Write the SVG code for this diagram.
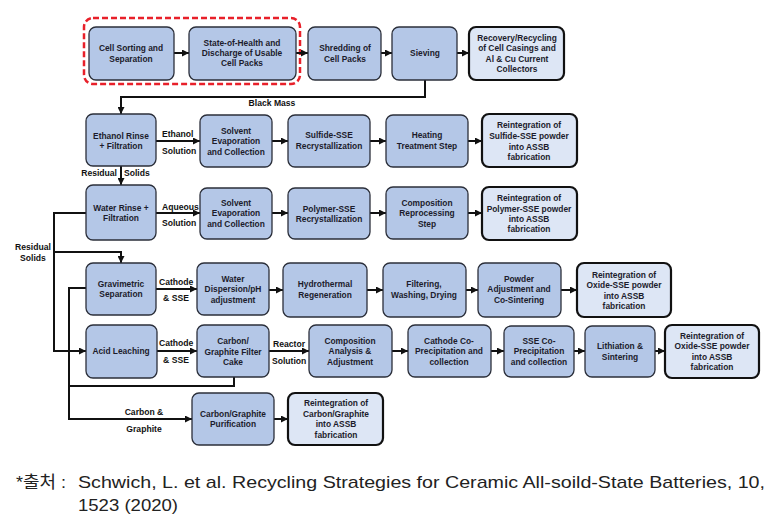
<svg xmlns="http://www.w3.org/2000/svg" width="781" height="520" viewBox="0 0 781 520">
<style>
.box{fill:#b4c7e7;stroke:#2b2f3a;stroke-width:1.3}
.fin{fill:#dde6f5;stroke:#111;stroke-width:2.2}
.t{font-family:"Liberation Sans",Arial,sans-serif;font-weight:bold;font-size:8.4px;text-anchor:middle;fill:#1c1c2c}
.l{font-family:"Liberation Sans",Arial,sans-serif;font-weight:bold;font-size:8.6px;fill:#111}
.c{stroke:#111;stroke-width:2;fill:none}
.foot{font-family:"Liberation Sans","Noto Sans CJK KR",sans-serif;font-size:17px;fill:#222}
</style>
<defs>
<marker id="ah" markerUnits="userSpaceOnUse" markerWidth="7" markerHeight="7" refX="7" refY="3.5" orient="auto">
<path d="M0,0 L7,3.5 L0,7 z" fill="#111"/>
</marker>
</defs>
<rect width="781" height="520" fill="#fff"/>

<rect x="84" y="18" width="216" height="66" rx="9" fill="none" stroke="#e8202a" stroke-width="2.5" stroke-dasharray="6 3"/>

<g id="connectors">
<line class="c" x1="174" y1="53" x2="189" y2="53" marker-end="url(#ah)"/>
<line class="c" x1="296" y1="53" x2="308" y2="53" marker-end="url(#ah)"/>
<line class="c" x1="381" y1="53" x2="392" y2="53" marker-end="url(#ah)"/>
<line class="c" x1="457" y1="53" x2="469" y2="53" marker-end="url(#ah)"/>
<polyline class="c" points="425,80 425,97 121,97 121,114" marker-end="url(#ah)"/>
<line class="c" x1="156" y1="141" x2="200" y2="141" marker-end="url(#ah)"/>
<line class="c" x1="272" y1="141" x2="288" y2="141" marker-end="url(#ah)"/>
<line class="c" x1="370" y1="141" x2="386" y2="141" marker-end="url(#ah)"/>
<line class="c" x1="468" y1="141" x2="482" y2="141" marker-end="url(#ah)"/>
<line class="c" x1="121" y1="166" x2="121" y2="185" marker-end="url(#ah)"/>
<line class="c" x1="156" y1="213" x2="200" y2="213" marker-end="url(#ah)"/>
<line class="c" x1="272" y1="213" x2="288" y2="213" marker-end="url(#ah)"/>
<line class="c" x1="370" y1="213" x2="386" y2="213" marker-end="url(#ah)"/>
<line class="c" x1="468" y1="213" x2="482" y2="213" marker-end="url(#ah)"/>
<polyline class="c" points="86,213 54,213 54,351 86,351" marker-end="url(#ah)"/>
<polyline class="c" points="54,252 121,252 121,263" marker-end="url(#ah)"/>
<line class="c" x1="156" y1="289" x2="197" y2="289" marker-end="url(#ah)"/>
<line class="c" x1="269" y1="290" x2="283" y2="290" marker-end="url(#ah)"/>
<line class="c" x1="367" y1="290" x2="383" y2="290" marker-end="url(#ah)"/>
<line class="c" x1="466" y1="290" x2="478" y2="290" marker-end="url(#ah)"/>
<line class="c" x1="561" y1="290" x2="577" y2="290" marker-end="url(#ah)"/>
<polyline class="c" points="86,288 69,288 69,419 192,419" marker-end="url(#ah)"/>
<polyline class="c" points="234,377 234,386 69,386"/>
<line class="c" x1="157" y1="351" x2="197" y2="351" marker-end="url(#ah)"/>
<line class="c" x1="269" y1="351" x2="309" y2="351" marker-end="url(#ah)"/>
<line class="c" x1="392" y1="351" x2="408" y2="351" marker-end="url(#ah)"/>
<line class="c" x1="491" y1="351" x2="504" y2="351" marker-end="url(#ah)"/>
<line class="c" x1="574" y1="351" x2="585" y2="351" marker-end="url(#ah)"/>
<line class="c" x1="655" y1="351" x2="665" y2="351" marker-end="url(#ah)"/>
<line class="c" x1="274" y1="419" x2="288" y2="419" marker-end="url(#ah)"/>
</g>

<g id="connector-labels">
<text class="l" x="272" y="106" text-anchor="middle">Black Mass</text>
<text class="l" x="162" y="137">Ethanol</text>
<text class="l" x="162" y="154">Solution</text>
<text class="l" x="117" y="176" text-anchor="end">Residual</text>
<text class="l" x="124" y="176">Solids</text>
<text class="l" x="162" y="210">Aqueous</text>
<text class="l" x="162" y="226">Solution</text>
<text class="l" x="33" y="250" text-anchor="middle">Residual</text>
<text class="l" x="33" y="261" text-anchor="middle">Solids</text>
<text class="l" x="159" y="285">Cathode</text>
<text class="l" x="176" y="301" text-anchor="middle">&amp; SSE</text>
<text class="l" x="159" y="346">Cathode</text>
<text class="l" x="176" y="363" text-anchor="middle">&amp; SSE</text>
<text class="l" x="273" y="347">Reactor</text>
<text class="l" x="272" y="364">Solution</text>
<text class="l" x="144" y="415" text-anchor="middle">Carbon &amp;</text>
<text class="l" x="144" y="432" text-anchor="middle">Graphite</text>
</g>

<g id="n-cell-sorting"><rect class="box" x="89" y="27" width="85" height="53" rx="7"/>
<text class="t" x="131" y="51">Cell Sorting and</text><text class="t" x="131" y="62">Separation</text></g>
<g id="n-soh"><rect class="box" x="189" y="27" width="107" height="53" rx="7"/>
<text class="t" x="242" y="46">State-of-Health and</text><text class="t" x="242" y="56">Discharge of Usable</text><text class="t" x="242" y="66">Cell Packs</text></g>
<g id="n-shredding"><rect class="box" x="308" y="27" width="73" height="53" rx="7"/>
<text class="t" x="345" y="51">Shredding of</text><text class="t" x="345" y="62">Cell Packs</text></g>
<g id="n-sieving"><rect class="box" x="392" y="27" width="65" height="53" rx="7"/>
<text class="t" x="425" y="56">Sieving</text></g>
<g id="n-recovery"><rect class="fin" x="469" y="27" width="95" height="53" rx="7"/>
<text class="t" x="517" y="41">Recovery/Recycling</text><text class="t" x="517" y="51">of Cell Casings and</text><text class="t" x="517" y="62">Al &amp; Cu Current</text><text class="t" x="517" y="72">Collectors</text></g>

<g id="n-ethanol"><rect class="box" x="86" y="114" width="70" height="52" rx="7"/>
<text class="t" x="121" y="139">Ethanol Rinse</text><text class="t" x="121" y="149">+ Filtration</text></g>
<g id="n-solvent1"><rect class="box" x="200" y="115" width="72" height="52" rx="7"/>
<text class="t" x="236" y="134">Solvent</text><text class="t" x="236" y="144">Evaporation</text><text class="t" x="236" y="155">and Collection</text></g>
<g id="n-sulfide"><rect class="box" x="288" y="115" width="82" height="52" rx="7"/>
<text class="t" x="329" y="138">Sulfide-SSE</text><text class="t" x="329" y="149">Recrystallization</text></g>
<g id="n-heating"><rect class="box" x="386" y="115" width="82" height="52" rx="7"/>
<text class="t" x="427" y="138">Heating</text><text class="t" x="427" y="149">Treatment Step</text></g>
<g id="n-reint-sulfide"><rect class="fin" x="482" y="114" width="95" height="53" rx="7"/>
<text class="t" x="529" y="128">Reintegration of</text><text class="t" x="529" y="139">Sulfide-SSE powder</text><text class="t" x="529" y="150">into ASSB</text><text class="t" x="529" y="160">fabrication</text></g>

<g id="n-water"><rect class="box" x="86" y="185" width="70" height="55" rx="7"/>
<text class="t" x="121" y="211">Water Rinse +</text><text class="t" x="121" y="221">Filtration</text></g>
<g id="n-solvent2"><rect class="box" x="200" y="188" width="72" height="51" rx="7"/>
<text class="t" x="236" y="206">Solvent</text><text class="t" x="236" y="216">Evaporation</text><text class="t" x="236" y="227">and Collection</text></g>
<g id="n-polymer"><rect class="box" x="288" y="188" width="82" height="51" rx="7"/>
<text class="t" x="329" y="212">Polymer-SSE</text><text class="t" x="329" y="222">Recrystallization</text></g>
<g id="n-composition1"><rect class="box" x="386" y="187" width="82" height="52" rx="7"/>
<text class="t" x="427" y="206">Composition</text><text class="t" x="427" y="216">Reprocessing</text><text class="t" x="427" y="227">Step</text></g>
<g id="n-reint-polymer"><rect class="fin" x="482" y="187" width="95" height="53" rx="7"/>
<text class="t" x="529" y="201">Reintegration of</text><text class="t" x="529" y="212">Polymer-SSE powder</text><text class="t" x="529" y="222">into ASSB</text><text class="t" x="529" y="232">fabrication</text></g>

<g id="n-gravimetric"><rect class="box" x="86" y="263" width="70" height="52" rx="7"/>
<text class="t" x="121" y="287">Gravimetric</text><text class="t" x="121" y="297">Separation</text></g>
<g id="n-waterdisp"><rect class="box" x="197" y="263" width="72" height="52" rx="7"/>
<text class="t" x="233" y="282">Water</text><text class="t" x="233" y="292">Dispersion/pH</text><text class="t" x="233" y="303">adjustment</text></g>
<g id="n-hydro"><rect class="box" x="283" y="263" width="84" height="54" rx="7"/>
<text class="t" x="325" y="287">Hydrothermal</text><text class="t" x="325" y="298">Regeneration</text></g>
<g id="n-filtering"><rect class="box" x="383" y="263" width="83" height="54" rx="7"/>
<text class="t" x="424" y="287">Filtering,</text><text class="t" x="424" y="298">Washing, Drying</text></g>
<g id="n-powder"><rect class="box" x="478" y="263" width="83" height="54" rx="7"/>
<text class="t" x="519" y="282">Powder</text><text class="t" x="519" y="292">Adjustment and</text><text class="t" x="519" y="303">Co-Sintering</text></g>
<g id="n-reint-oxide1"><rect class="fin" x="577" y="263" width="94" height="54" rx="7"/>
<text class="t" x="624" y="278">Reintegration of</text><text class="t" x="624" y="288">Oxide-SSE powder</text><text class="t" x="624" y="299">into ASSB</text><text class="t" x="624" y="309">fabrication</text></g>

<g id="n-acid"><rect class="box" x="86" y="325" width="71" height="53" rx="7"/>
<text class="t" x="121" y="354">Acid Leaching</text></g>
<g id="n-cake"><rect class="box" x="197" y="325" width="72" height="52" rx="7"/>
<text class="t" x="233" y="344">Carbon/</text><text class="t" x="233" y="355">Graphite Filter</text><text class="t" x="233" y="365">Cake</text></g>
<g id="n-composition2"><rect class="box" x="309" y="325" width="83" height="52" rx="7"/>
<text class="t" x="350" y="344">Composition</text><text class="t" x="350" y="354">Analysis &amp;</text><text class="t" x="350" y="365">Adjustment</text></g>
<g id="n-cathode-coprec"><rect class="box" x="408" y="325" width="83" height="52" rx="7"/>
<text class="t" x="449" y="344">Cathode Co-</text><text class="t" x="449" y="354">Precipitation and</text><text class="t" x="449" y="365">collection</text></g>
<g id="n-sse-coprec"><rect class="box" x="504" y="326" width="70" height="51" rx="7"/>
<text class="t" x="539" y="344">SSE Co-</text><text class="t" x="539" y="354">Precipitation</text><text class="t" x="539" y="365">and collection</text></g>
<g id="n-lithiation"><rect class="box" x="585" y="326" width="70" height="51" rx="7"/>
<text class="t" x="620" y="349">Lithiation &amp;</text><text class="t" x="620" y="360">Sintering</text></g>
<g id="n-reint-oxide2"><rect class="fin" x="665" y="325" width="94" height="53" rx="7"/>
<text class="t" x="712" y="339">Reintegration of</text><text class="t" x="712" y="349">Oxide-SSE powder</text><text class="t" x="712" y="360">into ASSB</text><text class="t" x="712" y="370">fabrication</text></g>

<g id="n-purification"><rect class="box" x="192" y="393" width="82" height="52" rx="7"/>
<text class="t" x="233" y="417">Carbon/Graphite</text><text class="t" x="233" y="427">Purification</text></g>
<g id="n-reint-carbon"><rect class="fin" x="288" y="393" width="95" height="52" rx="7"/>
<text class="t" x="336" y="406">Reintegration of</text><text class="t" x="336" y="417">Carbon/Graphite</text><text class="t" x="336" y="427">into ASSB</text><text class="t" x="336" y="438">fabrication</text></g>

<g id="footer">
<text class="foot" x="16" y="488" textLength="50" lengthAdjust="spacingAndGlyphs">*출처 :</text>
<text class="foot" x="78" y="488" textLength="687" lengthAdjust="spacingAndGlyphs">Schwich, L. et al. Recycling Strategies for Ceramic All-soild-State Batteries, 10,</text>
<text class="foot" x="78" y="511" textLength="100" lengthAdjust="spacingAndGlyphs">1523 (2020)</text>
</g>
</svg>
